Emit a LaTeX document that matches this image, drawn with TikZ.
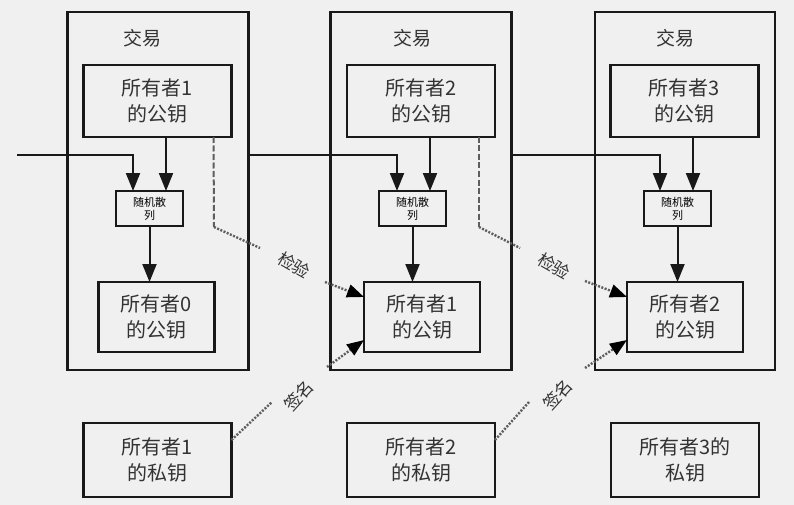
\documentclass[tikz,border=0pt]{standalone}
\usepackage{fontspec}
\newfontfamily\cjk{Noto Sans CJK SC}
\usetikzlibrary{arrows.meta}
\definecolor{bg}{HTML}{F0F0F0}
\definecolor{dotc}{HTML}{5E5E5E}
\begin{document}
\begin{tikzpicture}[x=1pt,y=-1pt,
  box/.style={draw=black!90,line width=2.2pt,inner sep=0pt,outer sep=0pt,font=\cjk\fontsize{20}{26}\selectfont,text=black!80,align=center},
  hashbox/.style={draw=black!90,line width=2.2pt,inner sep=0pt,outer sep=0pt,font=\cjk\fontsize{11}{13}\selectfont,align=center,minimum width=67pt,minimum height=35pt},
  keybox/.style={box,minimum width=148pt,minimum height=72pt},
  lowkey/.style={box,minimum width=116pt,minimum height=70pt},
  privkey/.style={box,minimum width=148pt,minimum height=74pt},
  trans/.style={draw=black!90,line width=2.2pt,inner sep=0pt,outer sep=0pt,minimum width=181pt,minimum height=358pt},
  title/.style={font=\cjk\fontsize{19}{22}\selectfont,text=black!80},
  lbl/.style={font=\cjk\fontsize{17}{20}\selectfont,text=black!80},
  arr/.style={draw=black!90,line width=2pt,-{Triangle[length=18pt,width=14pt]}},
  vdash/.style={dotc,line width=2pt,dash pattern=on 6pt off 2.5pt},
  vdot/.style={dotc,line width=2.4pt,dash pattern=on 2pt off 1.5pt},
  vdotarr/.style={vdot,-{Triangle[length=17pt,width=13pt,color=black]}}
]
\fill[bg] (0,0) rectangle (794,505);
\useasboundingbox (0,0) rectangle (794,505);

% transactions
\node[trans] (T1) at (158,191) {};
\node[trans] (T2) at (421,191) {};
\node[trans,minimum width=180pt] (T3) at (685,191) {};
\node[title] (t1) at (142,38) {交易};
\node[title] (t2) at (412,38) {交易};
\node[title] (t3) at (675,38) {交易};

% top keys
\node[keybox] (K1) at (157.5,101) {所有者1\\的公钥};
\node[keybox] (K2) at (421,101) {所有者2\\的公钥};
\node[keybox] (K3) at (684.5,101) {所有者3\\的公钥};

% hash
\node[hashbox] (H1) at (149.5,208.5) {随机散\\列};
\node[hashbox] (H2) at (412.5,208.5) {随机散\\列};
\node[hashbox] (H3) at (677.5,208.5) {随机散\\列};

% lower keys
\node[lowkey] (B1) at (156.5,317) {所有者0\\的公钥};
\node[lowkey] (B2) at (422,317) {所有者1\\的公钥};
\node[lowkey] (B3) at (685,317) {所有者2\\的公钥};

% private keys
\node[privkey] (P1) at (157.5,460) {所有者1\\的私钥};
\node[privkey] (P2) at (421,460) {所有者2\\的私钥};
\node[privkey] (P3) at (685,460) {所有者3的\\私钥};

% chain line
\coordinate (s0) at (17,155);
\draw[arr] (s0) -| ([xshift=17pt]H1.north west);
\draw[arr] (T1.east |- s0) -| ([xshift=18pt]H2.north west);
\draw[arr] (T2.east |- s0) -| ([xshift=16pt]H3.north west);

% key to hash
\draw[arr] ([xshift=-17pt]H1.north east |- K1.south) -- ([xshift=-17pt]H1.north east);
\draw[arr] ([xshift=-16pt]H2.north east |- K2.south) -- ([xshift=-16pt]H2.north east);
\draw[arr] ([xshift=-18pt]H3.north east |- K3.south) -- ([xshift=-18pt]H3.north east);

% hash to lower key
\draw[arr] (H1.south) -- (H1.south |- B1.north);
\draw[arr] (H2.south) -- (H2.south |- B2.north);
\draw[arr] (H3.south) -- (H3.south |- B3.north);

% verification
\coordinate (v1a) at (214,227);
\coordinate (v1b) at (260,248);
\coordinate (v1c) at (325,282);
\draw[vdash] ([xshift=-18pt]K1.south east) -- (v1a);
\draw[vdot] (v1a) -- (v1b);
\draw[vdotarr] (v1c) -- ([yshift=20pt]B2.west);
\node[lbl,rotate=-30] (c1) at (294,265) {检验};

\coordinate (v2a) at (479,227);
\coordinate (v2b) at (520,248);
\coordinate (v2c) at (585,281);
\draw[vdash] ([xshift=-16pt]K2.south east) -- (v2a);
\draw[vdot] (v2a) -- (v2b);
\draw[vdotarr] (v2c) -- ([yshift=20pt]B3.west);
\node[lbl,rotate=-30] (c2) at (554,266) {检验};

% signature
\coordinate (g1b) at (272,402);
\coordinate (g1c) at (327,367);
\draw[vdot] ([yshift=20pt]P1.east) -- (g1b);
\draw[vdotarr] (g1c) -- ([yshift=-23pt]B2.west);
\node[lbl,rotate=48] (n1) at (299,396) {签名};

\coordinate (g2b) at (529,402);
\coordinate (g2c) at (585,368);
\draw[vdot] ([yshift=20pt]P2.east) -- (g2b);
\draw[vdotarr] (g2c) -- ([yshift=-23pt]B3.west);
\node[lbl,rotate=48] (n2) at (558,395) {签名};
\end{tikzpicture}
\end{document}
